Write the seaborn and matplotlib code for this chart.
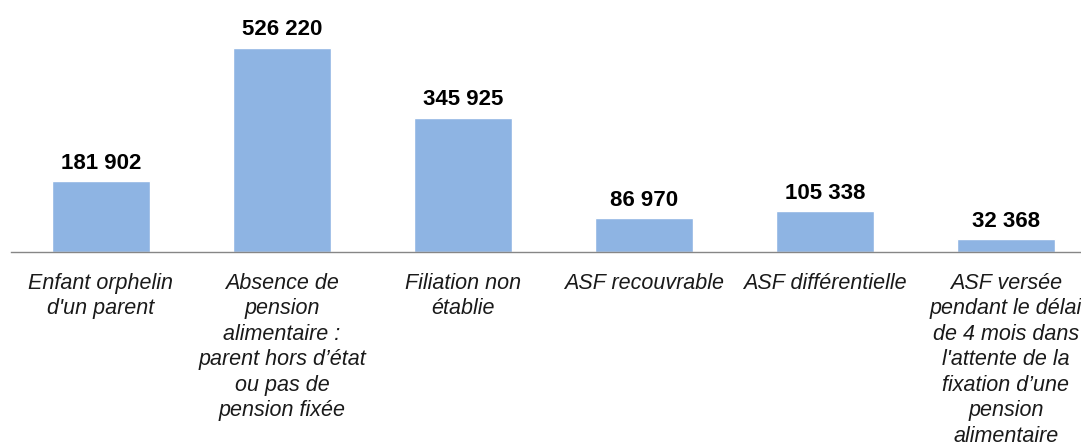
import matplotlib
matplotlib.use("Agg")
import matplotlib.pyplot as plt
import seaborn as sns
import pandas as pd

# ASF beneficiaries by motive
categories = [
    "Enfant orphelin\nd'un parent",
    "Absence de\npension\nalimentaire :\nparent hors d’état\nou pas de\npension fixée",
    "Filiation non\nétablie",
    "ASF recouvrable",
    "ASF différentielle",
    "ASF versée\npendant le délai\nde 4 mois dans\nl'attente de la\nfixation d’une\npension\nalimentaire",
]
values = [181902, 526220, 345925, 86970, 105338, 32368]

df = pd.DataFrame({"motif": categories, "nb": values})

sns.set_theme(style="white")
plt.rcParams["font.family"] = ["Liberation Sans", "DejaVu Sans"]

fig = plt.figure(figsize=(10.81, 4.46), dpi=100)
ax = fig.add_axes([10.5 / 1081, 194 / 446, 1086 / 1081, 252 / 446])

sns.barplot(data=df, x="motif", y="nb", color="#8EB4E3", saturation=1, width=0.54, ax=ax)

labels = [f"{v:,}".replace(",", " ") for v in values]
ax.bar_label(ax.containers[0], labels=labels, padding=5.5, fontsize=16, fontweight="bold", color="#000000")

ax.set_ylim(0, 650000)
ax.set_xlim(-0.5, 5.5)
ax.set_yticks([])
ax.set_xlabel("")
ax.set_ylabel("")
for s in ["top", "right", "left"]:
    ax.spines[s].set_visible(False)
ax.spines["bottom"].set_color("#868686")
ax.spines["bottom"].set_linewidth(1)

ax.tick_params(axis="x", length=0, pad=15)
for t in ax.get_xticklabels():
    t.set_fontstyle("italic")
    t.set_fontsize(15.5)
    t.set_color("#1a1a1a")
    t.set_linespacing(1.28)
    t.set_verticalalignment("top")

fig.savefig("out.png", dpi=100)
